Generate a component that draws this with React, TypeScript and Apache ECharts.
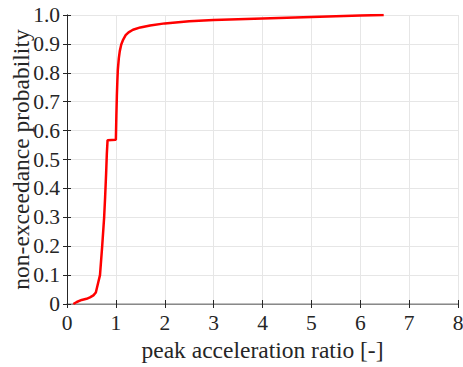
import React, { useEffect, useRef } from "react";
import * as echarts from "echarts";

const xValues = [0.13, 0.2, 0.3, 0.4, 0.47, 0.54, 0.59, 0.64, 0.675, 0.72, 0.76, 0.78, 0.8, 0.815, 0.83, 1.0, 1.01, 1.02, 1.03, 1.04, 1.06, 1.08, 1.11, 1.15, 1.2, 1.26, 1.35, 1.5, 1.7, 2.0, 2.5, 3.0, 4.0, 5.0, 6.0, 6.48];
const yValues = [0.0, 0.007, 0.014, 0.018, 0.023, 0.03, 0.04, 0.075, 0.1, 0.2, 0.3, 0.37, 0.45, 0.52, 0.567, 0.568, 0.65, 0.72, 0.77, 0.81, 0.85, 0.875, 0.898, 0.915, 0.93, 0.94, 0.949, 0.957, 0.964, 0.971, 0.978, 0.983, 0.988, 0.993, 0.998, 1.0];
const xTicks = [0, 1, 2, 3, 4, 5, 6, 7, 8];
const yTicks = [0, 0.1, 0.2, 0.3, 0.4, 0.5, 0.6, 0.7, 0.8, 0.9, 1.0];

const FONT = "Liberation Serif";

export default function App() {
  const ref = useRef<HTMLDivElement>(null);
  useEffect(() => {
    const chart = echarts.init(ref.current!, null, { renderer: "svg" });
    const label = { fontFamily: FONT, fontSize: 21.5, color: "#262626" };
    const nameStyle = { fontFamily: FONT, fontSize: 23.5, color: "#262626" };
    chart.setOption({
      animation: false,
      backgroundColor: "#ffffff",
      textStyle: { fontFamily: FONT },
      grid: { left: 67, right: 5, top: 15, bottom: 63, containLabel: false, outerBoundsMode: "none" },
      xAxis: [
        {
          type: "value",
          min: xTicks[0],
          max: xTicks[xTicks.length - 1],
          interval: 1,
          position: "bottom",
          name: "peak acceleration ratio [-]",
          nameLocation: "middle",
          nameGap: 34,
          nameMoveOverlap: false,
          nameTextStyle: nameStyle,
          axisLine: { show: true, lineStyle: { color: "#262626", width: 1 } },
          axisTick: { show: true, inside: true, length: 4, lineStyle: { color: "#262626" } },
          axisLabel: { ...label, margin: 8, formatter: (v: number) => String(v) },
          splitLine: { show: true, lineStyle: { color: "#e6e6e6", width: 1 } },
        },
        {
          type: "value",
          min: xTicks[0],
          max: xTicks[xTicks.length - 1],
          interval: 1,
          position: "top",
          axisLine: { show: true, lineStyle: { color: "#aaaaaa", width: 1.5 } },
          axisTick: { show: true, inside: true, length: 4, lineStyle: { color: "#262626" } },
          axisLabel: { show: false },
          splitLine: { show: false },
        },
      ],
      yAxis: [
        {
          type: "value",
          min: yTicks[0],
          max: yTicks[yTicks.length - 1],
          interval: 0.1,
          position: "left",
          name: "non-exceedance probability",
          nameLocation: "middle",
          nameGap: 34,
          nameMoveOverlap: false,
          nameTextStyle: nameStyle,
          axisLine: { show: true, lineStyle: { color: "#555555", width: 1 } },
          axisTick: { show: true, inside: true, length: 4, lineStyle: { color: "#262626" } },
          axisLabel: {
            ...label,
            margin: 7,
            formatter: (v: number) => (v === 0 ? "0" : v.toFixed(1)),
          },
          splitLine: { show: true, lineStyle: { color: "#e6e6e6", width: 1 } },
        },
        {
          type: "value",
          min: yTicks[0],
          max: yTicks[yTicks.length - 1],
          interval: 0.1,
          position: "right",
          axisLine: { show: true, lineStyle: { color: "#262626", width: 1 } },
          axisTick: { show: true, inside: true, length: 4, lineStyle: { color: "#262626" } },
          axisLabel: { show: false },
          splitLine: { show: false },
        },
      ],
      series: [
        {
          type: "line",
          xAxisIndex: 0,
          yAxisIndex: 0,
          data: xValues.map((x, i) => [x, yValues[i]]),
          showSymbol: false,
          smooth: false,
          lineStyle: { color: "#ff0000", width: 2.5 },
          z: 5,
        },
      ],
    });
    return () => chart.dispose();
  }, []);
  return <div ref={ref} style={{ width: 463, height: 367, position: "absolute", left: 0, top: 0 }} />;
}
